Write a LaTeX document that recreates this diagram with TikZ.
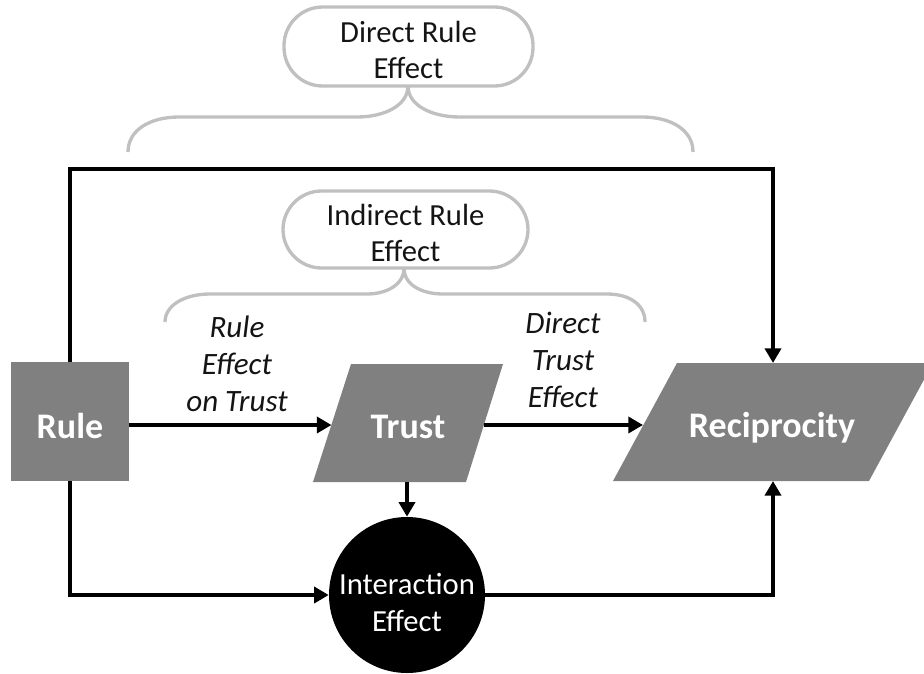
\documentclass[tikz,border=0pt]{standalone}
\usepackage{fontspec}
\setmainfont{Carlito}
\usetikzlibrary{arrows.meta}
\definecolor{boxgray}{RGB}{128,128,128}
\definecolor{bracegray}{RGB}{192,192,192}
\definecolor{ink}{RGB}{20,20,20}
\begin{document}
\begin{tikzpicture}[x=0.75pt,y=-0.75pt,
  arr/.style={line width=3pt, -{Triangle[length=11pt,width=12pt]}},
  brace/.style={bracegray, line width=2.5pt},
  boldlabel/.style={text=white, font=\fontsize{27}{32}\selectfont\bfseries, inner sep=0pt},
  edgelabel/.style={align=center, text=ink, font=\fontsize{23.3}{27.75}\selectfont\itshape},
  stadium/.style={draw=bracegray, line width=2.5pt, rounded corners=29pt, inner sep=0pt},
  stadiumtext/.style={align=center, text=ink, font=\fontsize{23}{27}\selectfont, inner sep=0pt}
]
\useasboundingbox (0,0) rectangle (924,674);
\clip (0,0) rectangle (924,674);

% shapes
\node (rule) [fill=boxgray, minimum width=88.5pt, minimum height=89.25pt, inner sep=0pt] at (70,421.5) {};
\node (ruleText) [boldlabel] at (70,426) {Rule};
\fill[boxgray] (351,364) -- (503,364) -- (466,482) -- (313,482) -- cycle;
\node (trust) [boldlabel] at (408,427) {Trust};
\fill[boxgray] (677,363) -- (933,363) -- (869,481) -- (613,481) -- cycle;
\node (recip) [boldlabel] at (772,428) {Reciprocity};
\node (inter) [circle, fill=black, minimum size=117pt, inner sep=0pt] at (407,595) {};
\node (interText) [align=center, text=white, font=\fontsize{23}{27.75}\selectfont, inner sep=0pt]
  at (407,603) {Interaction\\Effect};

\coordinate (trustW) at (331.5,425);
\coordinate (trustE) at (484,425);
\coordinate (trustS) at (407,482);
\coordinate (recW) at (643,425);
\coordinate (recN) at (773,363);
\coordinate (recS) at (773,481);
\coordinate (topR) at (773,169);

% connectors
\draw[arr] (rule.east |- trustW) -- (trustW);
\draw[arr] (trustE) -- (recW);
\draw[arr] (rule.north) |- (topR) -- (recN);
\draw[arr] (rule.south) |- (inter.west);
\draw[arr] (trustS) -- (inter.north);
\draw[arr] (inter.east) -| (recS);

% edge labels
\node (lblRT) [edgelabel] at (237,364) {Rule\\Effect\\on Trust};
\node (lblTR) [edgelabel] at (563,360) {Direct\\Trust\\Effect};

% effect callouts
\node (dre) [stadium, minimum width=186.75pt, minimum height=59.25pt] at (408.5,46.5) {};
\node (dreText) [stadiumtext] at (408.5,50) {Direct Rule\\Effect};
\node (ire) [stadium, minimum width=183.75pt, minimum height=57.75pt] at (405.5,229.5) {};
\node (ireText) [stadiumtext] at (405.5,233) {Indirect Rule\\Effect};

% braces
\draw[brace] (408,86) .. controls (408,105) and (385,117) .. (357,117) -- (179,117)
   .. controls (150,117) and (128,130) .. (128,152);
\draw[brace] (408,86) .. controls (408,105) and (431,117) .. (460,117) -- (642,117)
   .. controls (671,117) and (693,130) .. (693,152);
\draw[brace] (404,268) .. controls (404,285) and (386,294) .. (367,294) -- (210,294)
   .. controls (185,294) and (165,305) .. (165,322);
\draw[brace] (404,268) .. controls (404,285) and (422,294) .. (443,294) -- (607,294)
   .. controls (630,294) and (645,305) .. (645,322);
\end{tikzpicture}
\end{document}
